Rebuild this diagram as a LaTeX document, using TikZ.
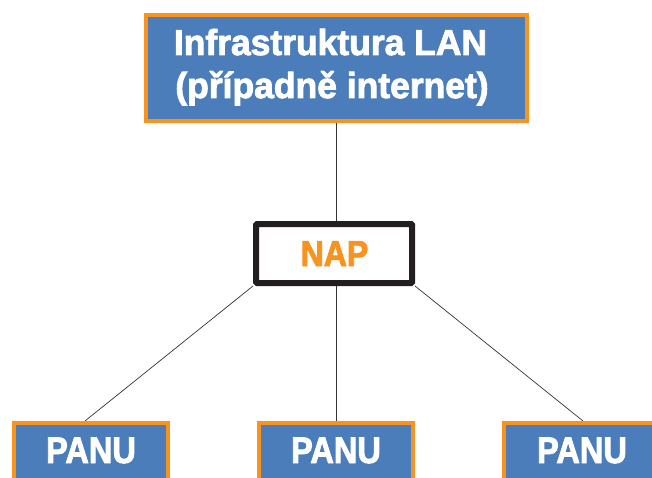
\documentclass[tikz,border=0pt]{standalone}
\usepackage{fontspec}
\setmainfont{Liberation Sans}
\newfontfamily\wideb{Liberation Sans}[FakeStretch=0.985,FakeBold=2.4]
\newfontfamily\narb{Liberation Sans}[FakeStretch=0.88,FakeBold=2.4]
\newfontfamily\napb{Liberation Sans}[FakeStretch=0.89,FakeBold=2.4]
\usetikzlibrary{backgrounds}
\definecolor{boxblue}{RGB}{74,125,185}
\definecolor{boxorange}{RGB}{247,147,30}
\definecolor{napblack}{RGB}{35,31,32}
\tikzset{
  bluebox/.style={draw=boxorange, fill=boxblue, line width=3.5pt, rectangle, inner sep=0pt},
  napbox/.style={draw=napblack, fill=white, line width=6pt, rectangle, inner sep=0pt, rounded corners=1pt},
  wtext/.style={text=white, inner sep=0pt, anchor=base},
  conn/.style={draw=black!80, line width=0.7pt}
}
\begin{document}
\begin{tikzpicture}[x=1pt,y=-1pt]
\useasboundingbox (0,0) rectangle (652,478);
\clip (0,0) rectangle (652,478);
% top box
\node[bluebox, minimum width=381pt, minimum height=106pt] (lan) at (336.5,68) {};
\node[wtext] (lan1) at (330.5,55) {\fontsize{36}{43}\selectfont\wideb\bfseries Infrastruktura LAN};
\node[wtext] (lan2) at (332,98) {\fontsize{36}{43}\selectfont\wideb\bfseries (případně internet)};
% NAP
\node[napbox, minimum width=156pt, minimum height=59pt] (nap) at (334,253.5) {};
\node[inner sep=0pt, anchor=base, text=boxorange] (naptext) at (334.5,266) {\fontsize{36}{43}\selectfont\napb\bfseries NAP};
% PANU boxes
\node[bluebox, minimum width=154pt, minimum height=100pt, anchor=north] (p1) at (91,421) {};
\node[bluebox, minimum width=154pt, minimum height=100pt, anchor=north] (p2) at (336,421) {};
\node[bluebox, minimum width=154pt, minimum height=100pt, anchor=north] (p3) at (581,421) {};
\node[wtext] (t1) at (91,463) {\fontsize{37}{43}\selectfont\narb\bfseries PANU};
\node[wtext] (t2) at (336,463) {\fontsize{37}{43}\selectfont\narb\bfseries PANU};
\node[wtext] (t3) at (582,463) {\fontsize{37}{43}\selectfont\narb\bfseries PANU};
% connectors
\begin{pgfonlayer}{background}
\draw[conn] ([xshift=2.5pt]lan.south -| nap.north) -- ([xshift=2.5pt]nap.north);
\draw[conn] ([xshift=2.5pt]nap.south) -- ([xshift=2.5pt]p2.north -| nap.south);
\draw[conn] (nap.south west) -- ([xshift=-6pt]p1.north);
\draw[conn] (nap.south east) -- ([xshift=2pt]p3.north);
\end{pgfonlayer}
\end{tikzpicture}
\end{document}
